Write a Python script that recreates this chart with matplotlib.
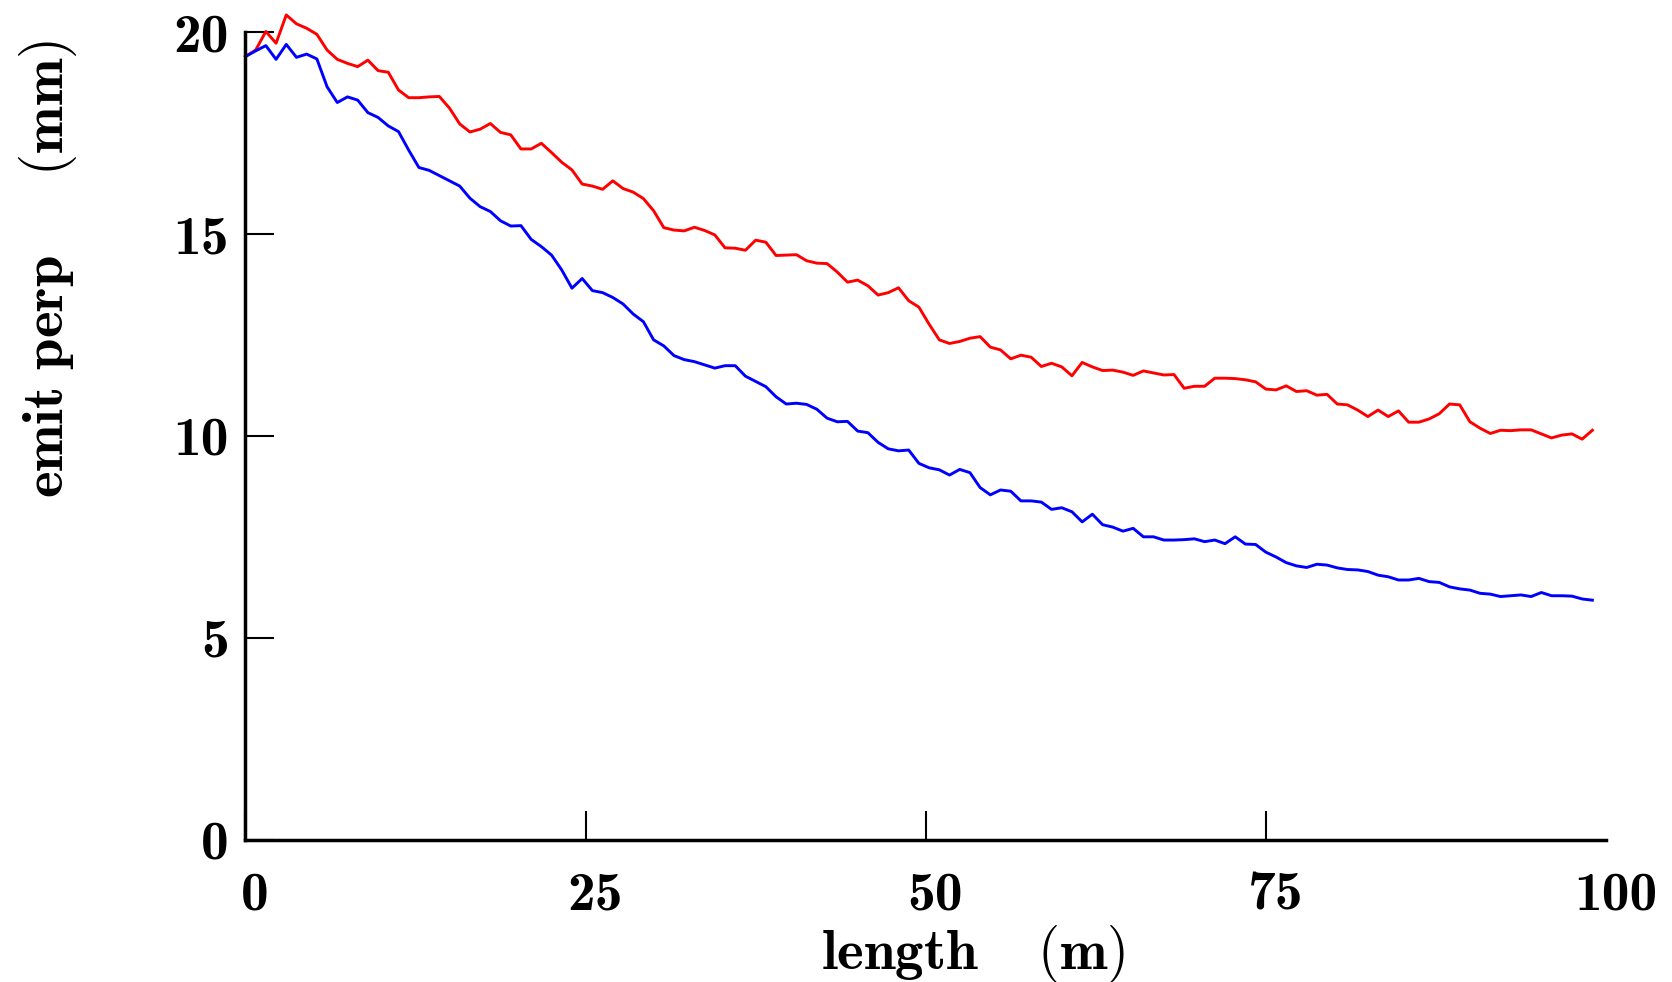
import numpy as np
import matplotlib
matplotlib.use("Agg")
import matplotlib.pyplot as plt
from matplotlib.transforms import ScaledTranslation

plt.rcParams['mathtext.fontset'] = 'cm'

# sample positions along the line (m), every 0.75 m
length = np.arange(133) * 0.75

emit_red = [19.40, 19.56, 20.02, 19.73, 20.43, 20.21, 20.10, 19.95, 19.56, 19.33,
            19.23, 19.15, 19.31, 19.05, 19.01, 18.57, 18.38, 18.38, 18.40, 18.41,
            18.12, 17.73, 17.53, 17.60, 17.74, 17.52, 17.46, 17.11, 17.11, 17.25,
            17.02, 16.78, 16.59, 16.24, 16.19, 16.11, 16.32, 16.13, 16.04, 15.88,
            15.58, 15.16, 15.10, 15.08, 15.17, 15.09, 14.98, 14.66, 14.65, 14.60,
            14.85, 14.80, 14.47, 14.48, 14.49, 14.34, 14.28, 14.27, 14.06, 13.81,
            13.86, 13.72, 13.49, 13.55, 13.67, 13.35, 13.19, 12.77, 12.38, 12.29,
            12.34, 12.42, 12.46, 12.20, 12.13, 11.91, 12.00, 11.95, 11.72, 11.80,
            11.71, 11.49, 11.82, 11.71, 11.62, 11.63, 11.58, 11.50, 11.61, 11.56,
            11.51, 11.52, 11.18, 11.23, 11.23, 11.43, 11.43, 11.42, 11.39, 11.34,
            11.16, 11.14, 11.24, 11.10, 11.12, 11.01, 11.03, 10.79, 10.77, 10.64,
            10.48, 10.64, 10.48, 10.62, 10.34, 10.34, 10.42, 10.55, 10.79, 10.77,
            10.35, 10.19, 10.06, 10.14, 10.13, 10.15, 10.15, 10.05, 9.95, 10.02,
            10.05, 9.92, 10.14]

emit_blue = [19.40, 19.54, 19.67, 19.33, 19.70, 19.38, 19.46, 19.34, 18.65, 18.26,
             18.40, 18.32, 18.01, 17.89, 17.68, 17.54, 17.08, 16.65, 16.58, 16.45,
             16.32, 16.19, 15.89, 15.68, 15.56, 15.33, 15.20, 15.21, 14.87, 14.69,
             14.48, 14.11, 13.66, 13.90, 13.60, 13.55, 13.43, 13.27, 13.02, 12.83,
             12.38, 12.23, 11.99, 11.89, 11.84, 11.76, 11.68, 11.74, 11.74, 11.48,
             11.35, 11.22, 10.97, 10.79, 10.81, 10.78, 10.66, 10.44, 10.35, 10.36,
             10.12, 10.08, 9.84, 9.68, 9.63, 9.65, 9.32, 9.21, 9.16, 9.03,
             9.17, 9.09, 8.72, 8.54, 8.66, 8.63, 8.39, 8.39, 8.36, 8.18,
             8.22, 8.12, 7.87, 8.06, 7.80, 7.74, 7.64, 7.71, 7.50, 7.50,
             7.42, 7.42, 7.43, 7.45, 7.38, 7.42, 7.33, 7.50, 7.32, 7.31,
             7.12, 7.00, 6.86, 6.78, 6.74, 6.82, 6.80, 6.73, 6.69, 6.68,
             6.64, 6.55, 6.51, 6.43, 6.43, 6.47, 6.39, 6.37, 6.26, 6.21,
             6.18, 6.10, 6.08, 6.02, 6.04, 6.06, 6.02, 6.12, 6.04, 6.04,
             6.03, 5.96, 5.93]

xticks = [0, 25, 50, 75, 100]
yticks = [0, 5, 10, 15, 20]

fig = plt.figure(figsize=(16.72, 9.82), dpi=100)
ax = fig.add_axes([0.1468, 0.1451, 0.8137, 0.822])

ax.plot(length, emit_red, color='#ff0000', lw=2.1, clip_on=False)
ax.plot(length, emit_blue, color='#0000ff', lw=2.1, clip_on=False)

ax.set_xlim(0, 100)
ax.set_ylim(0, 20)
ax.spines['top'].set_visible(False)
ax.spines['right'].set_visible(False)
ax.spines['left'].set_linewidth(2.5)
ax.spines['bottom'].set_linewidth(2.5)

ax.set_xticks(xticks)
ax.set_yticks(yticks)
ax.set_xticklabels([str(t) for t in xticks], fontfamily='cmb10', fontsize=40)
ax.set_yticklabels([str(t) for t in yticks], fontfamily='cmb10', fontsize=40)
ax.tick_params(axis='both', direction='in', length=21, width=1.5)
ax.tick_params(axis='y', pad=12)
ax.tick_params(axis='x', pad=23)
ax.xaxis.get_major_ticks()[-1].tick1line.set_visible(False)

shift = ScaledTranslation(7 / 72, 0, fig.dpi_scale_trans)
for lab in ax.get_xticklabels():
    lab.set_transform(lab.get_transform() + shift)

ax.set_xlabel(r'$\mathbf{length\hspace{1.2}(m)}$', fontsize=41)
ax.xaxis.set_label_coords(0.535, -0.103)
ax.xaxis.label.set_va('top')
ax.set_ylabel(r'$\mathbf{emit\ perp\hspace{1.6}(mm)}$', fontsize=41)
ax.yaxis.set_label_coords(-0.145, 0.707)
ax.yaxis.label.set_va('center')

fig.savefig('out.png', dpi=100)
